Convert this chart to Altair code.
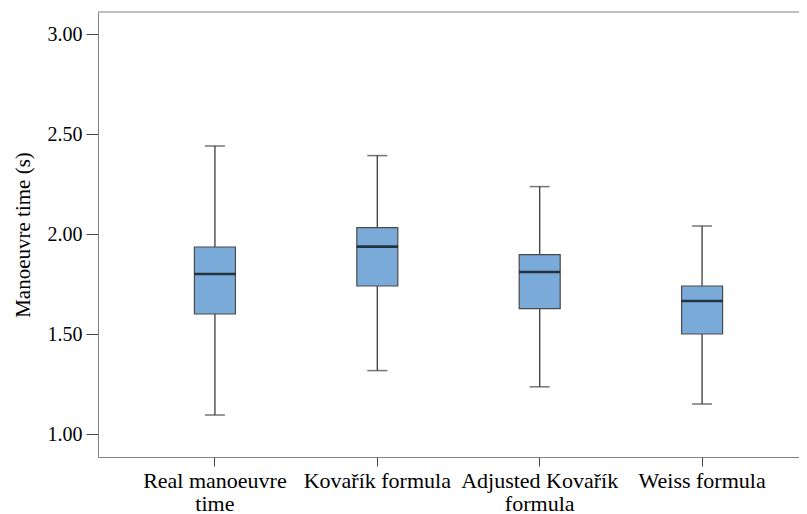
import altair as alt
import pandas as pd

categories = ["Real manoeuvre\ntime", "Kovařík formula", "Adjusted Kovařík\nformula", "Weiss formula"]
whisker_low = [1.095, 1.317, 1.236, 1.15]
q1 = [1.60, 1.74, 1.627, 1.50]
median = [1.80, 1.937, 1.81, 1.665]
q3 = [1.935, 2.032, 1.897, 1.74]
whisker_high = [2.44, 2.392, 2.237, 2.04]

df = pd.DataFrame({
    "cat": categories,
    "low": whisker_low,
    "q1": q1,
    "med": median,
    "q3": q3,
    "high": whisker_high,
})

FONT = "Liberation Serif"
W, H = 693, 445

x_enc = alt.X(
    "cat:N",
    sort=categories,
    title=None,
    scale=alt.Scale(range=[0, 721], paddingInner=0, paddingOuter=0.22),
    axis=alt.Axis(
        labelExpr="split(datum.label, '\\n')",
        labelAngle=0,
        labelFontSize=22,
        labelFont=FONT,
        labelColor="#000000",
        labelPadding=4,
        labelLineHeight=23,
        tickSize=9,
        tickColor="#444444",
        domainColor="#808080",
        labelBaseline="top",
    ),
)
y_scale = alt.Scale(domain=[0.885, 3.11], nice=False, zero=False)

base = alt.Chart(df)

whiskers = base.mark_rule(color="#3a3a3a", strokeWidth=1.3).encode(
    x=x_enc,
    y=alt.Y(
        "low:Q",
        scale=y_scale,
        title="Manoeuvre time (s)",
        axis=alt.Axis(
            values=[1.0, 1.5, 2.0, 2.5, 3.0],
            format=".2f",
            grid=False,
            tickSize=12,
            tickColor="#444444",
            domainColor="#808080",
            labelFontSize=20,
            labelFont=FONT,
            labelColor="#000000",
            labelPadding=4,
            titleFont=FONT,
            titleFontSize=21,
            titleFontWeight="normal",
            titleColor="#000000",
            titlePadding=14,
        ),
    ),
    y2="high:Q",
)

caps_low = base.mark_tick(color="#3a3a3a", size=20, thickness=1.5).encode(
    x=x_enc, y=alt.Y("low:Q", scale=y_scale)
)
caps_high = base.mark_tick(color="#3a3a3a", size=20, thickness=1.5).encode(
    x=x_enc, y=alt.Y("high:Q", scale=y_scale)
)

boxes = base.mark_bar(size=41, color="#7aaad8", stroke="#4a4a4a", strokeWidth=1.2).encode(
    x=x_enc, y=alt.Y("q1:Q", scale=y_scale), y2="q3:Q"
)

medians = base.mark_tick(color="#000000", size=41, thickness=2.6).encode(
    x=x_enc, y=alt.Y("med:Q", scale=y_scale)
)

top_line = alt.Chart(pd.DataFrame({"v": [0]})).mark_rule(color="#808080", strokeWidth=1).encode(
    x=alt.value(0), x2=alt.value(721), y=alt.value(0)
)

chart = alt.layer(whiskers, caps_low, caps_high, boxes, medians, top_line).properties(
    width=W,
    height=H,
    background="#ffffff",
    autosize=alt.AutoSizeParams(type="none"),
    padding={"left": 90, "top": 4, "right": 8, "bottom": 57},
).configure_view(stroke="transparent", strokeWidth=0)

chart.save("out.html", embed_options={"renderer": "svg", "actions": False})
